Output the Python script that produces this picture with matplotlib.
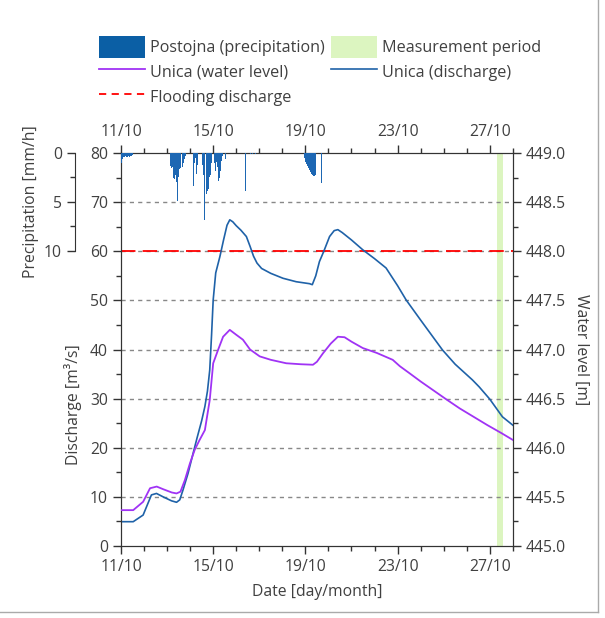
import matplotlib.pyplot as plt
from matplotlib.lines import Line2D
from matplotlib.patches import Patch
from matplotlib.ticker import MultipleLocator, FixedLocator, FormatStrFormatter

plt.rcParams['font.family'] = ['Open Sans', 'DejaVu Sans']
plt.rcParams['font.size'] = 11.3
plt.rcParams['text.color'] = '#404040'
plt.rcParams['axes.labelcolor'] = '#404040'
plt.rcParams['xtick.color'] = '#333333'
plt.rcParams['ytick.color'] = '#333333'
plt.rcParams['xtick.labelcolor'] = '#404040'
plt.rcParams['ytick.labelcolor'] = '#404040'

# --- data (day of October) ---
date_ticks = [11, 15, 19, 23, 27]
date_labels = ['11/10', '15/10', '19/10', '23/10', '27/10']

discharge_day = [11.0, 11.53, 11.96, 12.32, 12.54, 12.83, 13.19, 13.41, 13.55, 13.69,
                 13.91, 14.13, 14.3, 14.5, 14.64, 14.75, 14.85, 14.93, 15.0, 15.11,
                 15.29, 15.45, 15.6, 15.72, 15.85, 16.0, 16.2, 16.44, 16.6, 16.75,
                 16.9, 17.1, 17.5, 18.03, 18.6, 19.18, 19.3, 19.45, 19.61, 19.8,
                 20.05, 20.25, 20.41, 20.6, 21.0, 21.49, 22.0, 22.5, 23.0, 23.37,
                 24.0, 24.95, 25.5, 26.25, 26.54, 27.0, 27.55, 28.0]
discharge = [4.95, 4.95, 6.3, 10.4, 10.7, 10.0, 9.2, 8.9, 9.4, 11.4,
             14.8, 18.9, 22.0, 25.5, 28.4, 31.5, 35.8, 43.0, 50.1, 55.6,
             58.9, 62.3, 65.3, 66.4, 66.0, 65.2, 64.3, 63.0, 61.0, 59.0,
             57.6, 56.5, 55.5, 54.5, 53.8, 53.4, 53.2, 55.0, 57.9, 60.0,
             63.0, 64.2, 64.4, 63.8, 62.3, 60.3, 58.5, 56.6, 53.0, 50.1,
             46.0, 39.9, 37.0, 33.8, 32.4, 29.9, 26.3, 24.6]

level_day = [11.0, 11.53, 11.96, 12.26, 12.55, 12.83, 13.2, 13.41, 13.58, 13.77,
             13.99, 14.2, 14.4, 14.64, 14.85, 15.0, 15.21, 15.43, 15.72, 16.0,
             16.29, 16.6, 17.02, 17.5, 18.17, 18.8, 19.33, 19.5, 19.76, 20.1,
             20.41, 20.7, 21.0, 21.49, 22.1, 22.79, 23.1, 23.51, 24.0, 24.52,
             25.1, 25.7, 26.3, 26.9, 27.5, 28.0]
water_level = [445.365, 445.365, 445.45, 445.588, 445.605, 445.578, 445.545, 445.535, 445.553, 445.67,
               445.84, 445.98, 446.075, 446.18, 446.485, 446.86, 446.995, 447.13, 447.2, 447.15,
               447.1, 447.0, 446.93, 446.895, 446.86, 446.85, 446.845, 446.875, 446.96, 447.06,
               447.13, 447.125, 447.08, 447.015, 446.965, 446.895, 446.83, 446.76, 446.675, 446.59,
               446.495, 446.4, 446.315, 446.23, 446.15, 446.08]

precip_day = [11.0, 11.04, 11.08, 11.13, 11.17, 11.21, 11.25, 11.29, 11.33, 11.38, 11.42, 11.46,
              13.13, 13.17, 13.21, 13.25, 13.29, 13.33, 13.38, 13.42, 13.46, 13.5, 13.54,
              13.58, 13.63, 13.67, 13.71, 13.75, 13.79,
              14.13, 14.17, 14.21, 14.25, 14.29,
              14.5, 14.54, 14.58, 14.62, 14.67, 14.71, 14.75, 14.79, 14.83, 14.88, 14.92,
              15.04, 15.08, 15.13, 15.17, 15.21, 15.25, 15.29, 15.33, 15.38, 15.5,
              16.4, 16.6, 16.7, 16.8,
              18.96, 19.0, 19.04, 19.08, 19.13, 19.17, 19.21, 19.25, 19.29, 19.33, 19.38, 19.42,
              19.69]
precip_rate = [1.0, 0.6, 0.4, 0.4, 0.3, 0.4, 0.4, 0.3, 0.4, 0.3, 0.3, 0.2,
               1.3, 1.5, 1.4, 2.6, 2.7, 2.3, 3.0, 4.9, 2.5, 1.6, 2.2,
               1.5, 1.4, 1.2, 1.0, 0.6, 0.3,
               3.4, 1.0, 0.5, 2.1, 1.2,
               1.2, 2.3, 2.6, 6.8, 4.2, 2.7, 3.9, 3.7, 2.5, 2.2, 1.0,
               1.0, 1.8, 0.9, 1.4, 2.9, 2.6, 1.8, 0.8, 0.3, 0.6,
               3.9, 0.1, 0.1, 0.1,
               0.5, 0.9, 1.1, 1.3, 1.5, 1.7, 1.9, 2.1, 2.3, 2.4, 2.4, 2.3,
               3.1]

measurement_start, measurement_end = 27.3, 27.58
flooding_discharge = 60

blue = '#1f62a8'
purple = '#a033f5'
bar_blue = '#1d67b3'
green = '#dcf5c0'

fig = plt.figure(figsize=(6.05, 6.18), dpi=100)

# main discharge axes
ax = fig.add_axes([0.2, 0.1165, 0.6476, 0.6359])
ax.set_xlim(11, 28)
ax.set_ylim(0, 80)
ax.axvspan(measurement_start, measurement_end, color=green, lw=0, zorder=0)
for y in range(10, 80, 10):
    ax.axhline(y, color='#888888', lw=1, ls=(0, (3, 3)), zorder=1)
ax.axhline(flooding_discharge, color='red', lw=1.3, ls=(0, (8, 4)), zorder=2)
ax.plot(discharge_day, discharge, color=blue, lw=1.2, zorder=3)

ax.xaxis.set_major_locator(FixedLocator(date_ticks))
ax.set_xticklabels(date_labels)
ax.xaxis.set_minor_locator(MultipleLocator(1))
ax.yaxis.set_major_locator(MultipleLocator(10))
ax.yaxis.set_minor_locator(MultipleLocator(5))
ax.tick_params(axis='both', which='major', direction='out', length=6, width=1)
ax.tick_params(axis='both', which='minor', direction='out', length=3.5, width=1)
ax.tick_params(axis='x', which='both', top=True, labeltop=True)
ax.set_xlabel('Date [day/month]', labelpad=6)
ax.set_ylabel('Discharge [m³/s]')
ax.yaxis.set_label_coords(-0.1, 0.36)
for s in ax.spines.values():
    s.set_color('#333333')

# water level axes
wl = ax.twinx()
wl.set_ylim(445, 449)
wl.plot(level_day, water_level, color=purple, lw=1.3, zorder=3)
wl.yaxis.set_major_locator(MultipleLocator(0.5))
wl.yaxis.set_minor_locator(MultipleLocator(0.25))
wl.yaxis.set_major_formatter(FormatStrFormatter('%.1f'))
wl.tick_params(axis='y', which='major', direction='out', length=6, width=1)
wl.tick_params(axis='y', which='minor', direction='out', length=3.5, width=1)
wl.set_ylabel('Water level [m]', rotation=270)
wl.yaxis.set_label_coords(1.195, 0.5)
for s in wl.spines.values():
    s.set_color('#333333')

# precipitation axes (hanging from top)
pr = fig.add_axes([0.2, 0.5939, 0.6476, 0.1586])
pr.patch.set_visible(False)
pr.set_xlim(11, 28)
pr.set_ylim(10, 0)
pr.bar(precip_day, precip_rate, width=1 / 24, align='edge', color=bar_blue, lw=0)
pr.xaxis.set_visible(False)
for side in ['top', 'right', 'bottom']:
    pr.spines[side].set_visible(False)
pr.spines['left'].set_position(('outward', 33))
pr.spines['left'].set_color('#333333')
pr.yaxis.set_major_locator(FixedLocator([0, 5, 10]))
pr.yaxis.set_minor_locator(FixedLocator([2.5, 7.5]))
pr.tick_params(axis='y', which='major', direction='out', length=6, width=1)
pr.tick_params(axis='y', which='minor', direction='out', length=3.5, width=1)
pr.set_ylabel('Precipitation [mm/h]')
pr.yaxis.set_label_coords(-0.21, 0.5)

handles = [
    Patch(facecolor='#0b5fa5', edgecolor='none', label='Postojna (precipitation)'),
    Line2D([], [], color=purple, lw=1.3, label='Unica (water level)'),
    Line2D([], [], color='red', lw=1.3, ls=(0, (4, 3)), label='Flooding discharge'),
    Patch(facecolor=green, edgecolor='none', label='Measurement period'),
    Line2D([], [], color=blue, lw=1.2, label='Unica (discharge)'),
]
fig.legend(handles=handles, loc='upper left', bbox_to_anchor=(0.163, 0.942),
           ncol=2, frameon=False, borderpad=0, borderaxespad=0,
           handlelength=2.9, handleheight=1.7, handletextpad=0.3,
           labelspacing=0.2, columnspacing=0.35, fontsize=11.6)

# outer frame lines of the original picture
fig.add_artist(Line2D([598 / 605, 598 / 605], [1, 1 - 612 / 618], color='#aaaaaa', lw=1))
fig.add_artist(Line2D([0, 598 / 605], [1 - 612 / 618, 1 - 612 / 618], color='#aaaaaa', lw=1))

fig.savefig('out.png', dpi=100)
